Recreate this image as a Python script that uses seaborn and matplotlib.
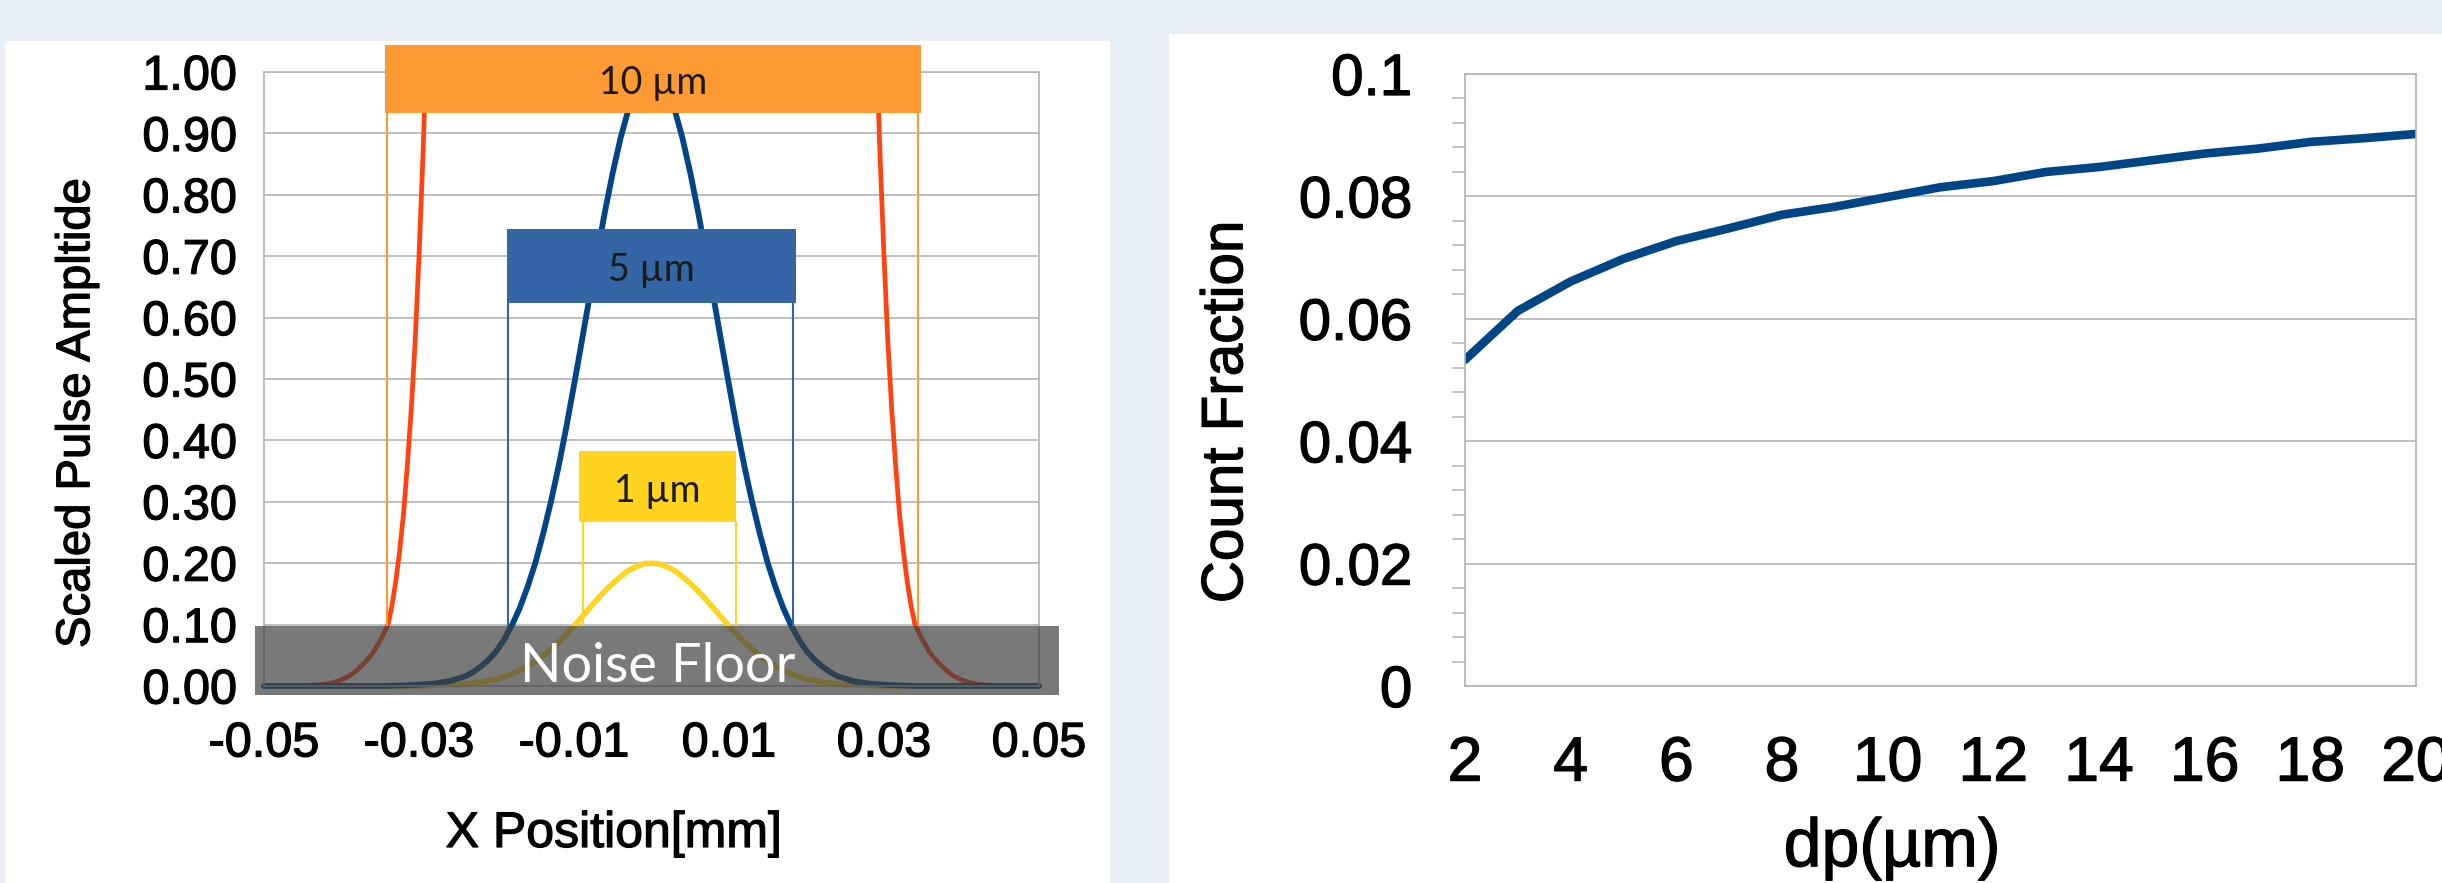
import numpy as np
import pandas as pd
import matplotlib
matplotlib.use("Agg")
import matplotlib.pyplot as plt
import matplotlib.ticker as mticker
import matplotlib.patheffects as pe
from matplotlib.patches import Rectangle
import seaborn as sns

# ---- left chart: scaled pulse amplitude vs x position ----
x_pos = [-0.050, -0.040, -0.034, -0.032, -0.030, -0.028,
         -0.026, -0.025, -0.024, -0.023, -0.022, -0.021, -0.020, -0.019, -0.018, -0.017,
         -0.016, -0.015, -0.014, -0.013, -0.012, -0.011, -0.010, -0.009, -0.008, -0.007,
         -0.006, -0.005, -0.004, -0.003, -0.002, -0.001, 0.000, 0.001, 0.002, 0.003,
         0.004, 0.005, 0.006, 0.007, 0.008, 0.009, 0.010, 0.011, 0.012, 0.013,
         0.014, 0.015, 0.016, 0.017, 0.018, 0.019, 0.020, 0.021, 0.022, 0.023,
         0.024, 0.025, 0.026,
         0.028, 0.030, 0.032, 0.034, 0.040, 0.050]
amp_5um = [0, 0, 0, 0.001, 0.002, 0.004,
           0.008, 0.012, 0.016, 0.023, 0.032, 0.043, 0.057, 0.076, 0.099, 0.127,
           0.161, 0.200, 0.247, 0.299, 0.357, 0.421, 0.490, 0.561, 0.633, 0.705,
           0.773, 0.836, 0.892, 0.938, 0.972, 0.993, 1.000, 0.993, 0.972, 0.938,
           0.892, 0.836, 0.773, 0.705, 0.633, 0.561, 0.490, 0.421, 0.357, 0.299,
           0.247, 0.200, 0.161, 0.127, 0.099, 0.076, 0.057, 0.043, 0.032, 0.023,
           0.016, 0.012, 0.008,
           0.004, 0.002, 0.001, 0, 0, 0]
amp_1um = [0, 0, 0, 0, 0, 0.001,
           0.002, 0.002, 0.003, 0.005, 0.006, 0.009, 0.011, 0.015, 0.020, 0.025,
           0.032, 0.040, 0.049, 0.060, 0.071, 0.084, 0.098, 0.112, 0.127, 0.141,
           0.155, 0.167, 0.178, 0.188, 0.194, 0.199, 0.200, 0.199, 0.194, 0.188,
           0.178, 0.167, 0.155, 0.141, 0.127, 0.112, 0.098, 0.084, 0.071, 0.060,
           0.049, 0.040, 0.032, 0.025, 0.020, 0.015, 0.011, 0.009, 0.006, 0.005,
           0.003, 0.002, 0.002,
           0.001, 0, 0, 0, 0, 0]

# 10 um curve only shows its two flanks, the rest runs far above the axis
x_10um_left = [-0.050, -0.046, -0.044, -0.042, -0.041, -0.040, -0.039, -0.038, -0.037,
               -0.036, -0.035, -0.034, -0.0335, -0.033, -0.0325, -0.032, -0.0315, -0.031,
               -0.0305, -0.030, -0.0295, -0.029, -0.0285, -0.028, -0.027]
amp_10um_left = [0, 0, 0.001, 0.003, 0.006, 0.010, 0.016, 0.026, 0.038,
                 0.053, 0.074, 0.10, 0.13, 0.17, 0.22, 0.28, 0.36, 0.45,
                 0.56, 0.70, 0.86, 1.05, 1.30, 1.6, 2.4]
x_10um_right = [0.027, 0.028, 0.0285, 0.029, 0.0295, 0.030, 0.0305, 0.031, 0.0315,
                0.032, 0.0325, 0.033, 0.0335, 0.034, 0.035, 0.036, 0.037, 0.038,
                0.039, 0.040, 0.041, 0.042, 0.044, 0.046, 0.050]
amp_10um_right = [2.4, 1.6, 1.30, 1.05, 0.86, 0.70, 0.56, 0.45, 0.36,
                  0.28, 0.22, 0.17, 0.13, 0.10, 0.074, 0.053, 0.038, 0.026,
                  0.016, 0.010, 0.006, 0.003, 0.001, 0, 0]

left_xticks = [-0.05, -0.03, -0.01, 0.01, 0.03, 0.05]

# ---- right chart: count fraction vs particle diameter ----
dp_um = [2, 3, 4, 5, 6, 7, 8, 9, 10, 11, 12, 13, 14, 15, 16, 17, 18, 19, 20]
count_fraction = [0.0533, 0.0613, 0.0661, 0.0698, 0.0727, 0.0748, 0.0770, 0.0783, 0.0799, 0.0815,
                  0.0825, 0.0840, 0.0848, 0.0859, 0.0870, 0.0878, 0.0889, 0.0895, 0.0902]

sns.set_style("white")
plt.rcParams['font.family'] = ['Liberation Sans', 'DejaVu Sans']
plt.rcParams['axes.unicode_minus'] = False
plt.rcParams['text.color'] = 'black'
plt.rcParams['axes.labelcolor'] = 'black'

W, H = 2442, 883
fig = plt.figure(figsize=(W / 100, H / 100), dpi=100)
fig.patch.set_facecolor('#e8eef6')
# white slide panels
fig.add_artist(Rectangle((5 / W, 0), (1110 - 5) / W, (H - 41) / H, transform=fig.transFigure,
                         facecolor='white', edgecolor='none', zorder=-5))
fig.add_artist(Rectangle((1169 / W, 0), 1, (H - 34) / H, transform=fig.transFigure,
                         facecolor='white', edgecolor='none', zorder=-5))

grey = '#b3b3b3'
heavy = [pe.withStroke(linewidth=0.9, foreground='black')]
ax1 = fig.add_axes([264 / W, 197 / H, 775 / W, 614 / H])
ax2 = fig.add_axes([1465 / W, 197 / H, 951 / W, 612 / H])

# left chart
sns.lineplot(x=x_10um_left, y=amp_10um_left, color='#ff420e', lw=3.4, sort=False,
             estimator=None, ax=ax1, zorder=2)
sns.lineplot(x=x_10um_right, y=amp_10um_right, color='#ff420e', lw=3.4, sort=False,
             estimator=None, ax=ax1, zorder=2)
sns.lineplot(x=x_pos, y=amp_1um, color='#ffd320', lw=4.0, sort=False, estimator=None,
             ax=ax1, zorder=2, clip_on=False)
sns.lineplot(x=x_pos, y=amp_5um, color='#004586', lw=4.2, sort=False, estimator=None,
             ax=ax1, zorder=2, clip_on=False)

ax1.set_xlim(-0.05, 0.05)
ax1.set_ylim(0, 1.0)
ax1.set_xticks(left_xticks)
ax1.set_yticks(np.linspace(0, 1, 11))
ax1.xaxis.set_major_formatter(mticker.FormatStrFormatter('%.2f'))
ax1.yaxis.set_major_formatter(mticker.FormatStrFormatter('%.2f'))
ax1.yaxis.grid(True, color=grey, lw=1.2)
ax1.tick_params(axis='y', length=10.8, width=1.1, color=grey, pad=8.6, labelsize=35,
                labelcolor='black')
ax1.tick_params(axis='x', length=6.5, width=1.1, color=grey, pad=19, labelsize=35,
                labelcolor='black')

# noise floor band over the curve tails
ax1.add_patch(Rectangle((-0.0512, -0.015), 0.1038, 0.113, facecolor='#404040', alpha=0.7,
                        edgecolor='none', clip_on=False, zorder=4))
ax1.text(0.0008, 0.0065, 'Noise Floor', color='white', fontsize=39, family=['Lato', 'DejaVu Sans'],
         ha='center', va='baseline', zorder=6)

# size tags: (label, colour, box x0, x1, y0, y1, leg x left, leg x right, text baseline)
tags = [
    ('10 µm', '#ff9933', -0.0344, 0.0348, 0.934, 1.044, -0.0341, 0.0344, 0.964),
    ('5 µm', '#3465a4', -0.0186, 0.0186, 0.624, 0.744, -0.0185, 0.0183, 0.660),
    ('1 µm', '#ffd320', -0.0094, 0.0109, 0.267, 0.383, -0.0088, 0.0109, 0.300),
]
for label, col, x0, x1, y0, y1, lx0, lx1, ty in tags:
    ax1.add_patch(Rectangle((x0, y0), x1 - x0, y1 - y0, facecolor=col, edgecolor='none',
                            clip_on=False, zorder=5))
    for lx in (lx0, lx1):
        ax1.plot([lx, lx], [y0, 0.098], color=col, lw=1.5, zorder=3)
    ax1.text((x0 + x1) / 2, ty, label, color='#1a1a1a', fontsize=27,
             family=['Lato', 'DejaVu Sans'], ha='center', va='baseline', zorder=6)

ax1.set_xlabel('X Position[mm]', fontsize=36)
ax1.xaxis.label.set_va('center')
ax1.xaxis.set_label_coords(0.4516, -0.241)
ax1.set_ylabel('Scaled Pulse Ampltide', fontsize=34)
ax1.yaxis.label.set_va('center')
ax1.yaxis.set_label_coords(-0.241, 0.444)

# right chart
sns.lineplot(x=dp_um, y=count_fraction, color='#004586', lw=6.2, estimator=None, ax=ax2)
ax2.set_xlim(2, 20)
ax2.set_ylim(0, 0.1)
ax2.set_xticks(range(2, 21, 2))
ax2.set_yticks(np.linspace(0, 0.1, 6))
ax2.yaxis.set_major_formatter(mticker.FuncFormatter(lambda v, _: f'{v:g}'))
ax2.yaxis.set_minor_locator(mticker.MultipleLocator(0.004))
ax2.yaxis.grid(True, which='major', color=grey, lw=1.2)
ax2.tick_params(axis='y', which='major', length=13, width=1.1, color=grey, pad=25, labelsize=42,
                labelcolor='black')
ax2.tick_params(axis='y', which='minor', length=9.4, width=1.1, color=grey, left=True)
ax2.tick_params(axis='x', length=15, width=1.1, color=grey, pad=20, labelsize=45,
                labelcolor='black')
ax2.set_xlabel('dp(µm)', fontsize=49)
ax2.xaxis.label.set_va('center')
ax2.xaxis.set_label_coords(0.449, -0.265)
ax2.set_ylabel('Count Fraction', fontsize=42)
ax2.yaxis.label.set_va('center')
ax2.yaxis.set_label_coords(-0.25, 0.448)

for ax in (ax1, ax2):
    ax.set_facecolor('white')
    for sp in ax.spines.values():
        sp.set_color(grey)
        sp.set_linewidth(1.2)
    for t in ax.get_xticklabels() + ax.get_yticklabels() + [ax.xaxis.label, ax.yaxis.label]:
        t.set_path_effects(heavy)

fig.savefig('out.png', dpi=100, facecolor=fig.get_facecolor())
